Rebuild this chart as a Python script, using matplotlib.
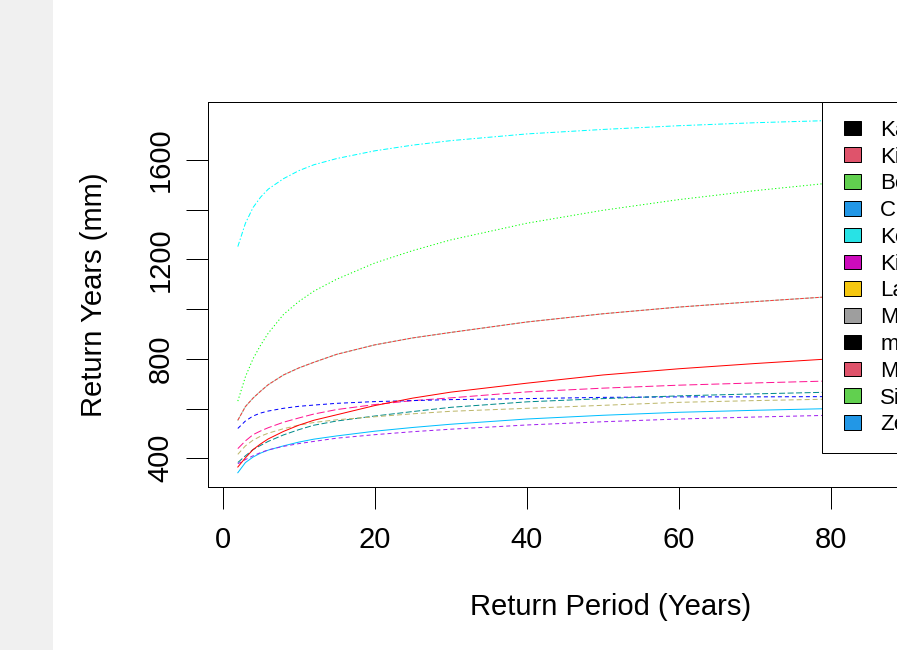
import matplotlib
matplotlib.use("Agg")
import matplotlib.pyplot as plt
from matplotlib.patches import Patch, Rectangle
from matplotlib.legend_handler import HandlerPatch

plt.rcParams["font.family"] = ["Liberation Sans", "DejaVu Sans"]
plt.rcParams["lines.scale_dashes"] = False

# return periods (years)
periods = [2, 3, 4, 5, 6, 8, 10, 12, 15, 20, 25, 30, 40, 50, 60, 70, 80, 90, 100]

# return levels (mm)
rl_cyan = [1251, 1345, 1408, 1450, 1482, 1524, 1556, 1580, 1605, 1636, 1659, 1677, 1704, 1722, 1737, 1749, 1758, 1767, 1775]
rl_green = [630, 728, 800, 855, 903, 978, 1030, 1072, 1120, 1185, 1235, 1278, 1345, 1397, 1440, 1476, 1507, 1535, 1560]
rl_brown = [553, 608, 642, 670, 696, 735, 763, 786, 818, 856, 884, 906, 948, 981, 1008, 1030, 1050, 1068, 1085]
rl_red = [365, 402, 435, 458, 478, 508, 533, 553, 575, 612, 642, 666, 702, 735, 760, 781, 800, 817, 833]
rl_pink = [439, 470, 495, 510, 523, 545, 562, 578, 596, 616, 632, 643, 667, 682, 694, 703, 711, 720, 728]
rl_blue = [520, 550, 570, 582, 590, 601, 609, 614, 621, 628, 632, 636, 640, 645, 647, 647, 648, 650, 652]
rl_teal = [383, 410, 435, 452, 468, 494, 515, 533, 550, 570, 588, 605, 627, 640, 651, 659, 666, 673, 679]
rl_khaki = [416, 450, 473, 489, 501, 519, 533, 544, 555, 567, 579, 589, 601, 613, 625, 632, 638, 643, 648]
rl_sky = [342, 383, 405, 421, 433, 450, 465, 477, 490, 509, 524, 537, 558, 573, 585, 593, 600, 606, 612]
rl_purple = [378, 395, 410, 423, 434, 448, 459, 468, 481, 495, 507, 517, 534, 547, 558, 566, 573, 578, 583]

stations = ["Kakamega", "Kisumu", "Bebeya", "C. Farm", "Kericho", "Kitale",
            "Lanet", "Muhoroni", "mean", "Mumias", "Siaya", "Zeze"]
legend_fill = ["black", "#DF536B", "#61D04F", "#2297E6", "#28E2E5", "#CD0BBC",
               "#F5C710", "#9E9E9E", "black", "#DF536B", "#61D04F", "#2297E6"]

px = 0.72  # one pixel in points at 100 dpi
fs = 21

fig = plt.figure(figsize=(8.97, 6.5), dpi=100)
fig.patches.append(Rectangle((0, 0), 53 / 897, 1, transform=fig.transFigure,
                             facecolor="#F0F0F0", edgecolor="none", zorder=-10))

ax = fig.add_axes([208 / 897, 1 - 487 / 650, 805 / 897, 385 / 650])

lw = 1.0 * px
ax.plot(periods, rl_cyan, color="#00FFFF", lw=lw, ls=(0, (5 * px, 2 * px, 1.5 * px, 2 * px)))
ax.plot(periods, rl_green, color="#00FF00", lw=lw, ls=(0, (1.2 * px, 2.3 * px)))
ax.plot(periods, rl_brown, color="#8FE0C8", lw=lw)
ax.plot(periods, rl_brown, color="#FF3A3A", lw=lw, ls=(0, (3.5 * px, 1.5 * px)))
ax.plot(periods, rl_pink, color="#FF1493", lw=lw, ls=(0, (8 * px, 3 * px)))
ax.plot(periods, rl_blue, color="#0000FF", lw=lw, ls=(0, (4 * px, 3 * px)))
ax.plot(periods, rl_teal, color="#008B8B", lw=lw, ls=(0, (6 * px, 2.5 * px)))
ax.plot(periods, rl_khaki, color="#BDB76B", lw=lw, ls=(0, (5 * px, 3 * px)))
ax.plot(periods, rl_sky, color="#00BFFF", lw=lw)
ax.plot(periods, rl_purple, color="#A020F0", lw=lw, ls=(0, (4 * px, 3 * px)))
ax.plot(periods, rl_red, color="#FF0000", lw=lw)

ax.margins(x=0.04, y=0.04)

ax.set_xticks([0, 20, 40, 60, 80, 100])
ax.set_yticks([400, 600, 800, 1000, 1200, 1400, 1600])
ax.set_yticklabels(["400", "", "800", "", "1200", "", "1600"], rotation=90, va="center")
ax.tick_params(axis="both", length=16, width=1.0 * px, labelsize=fs, color="black")
ax.tick_params(axis="x", pad=12)
ax.tick_params(axis="y", pad=8)
for s in ax.spines.values():
    s.set_linewidth(1.0 * px)
    s.set_color("black")

ax.set_xlabel("Return Period (Years)", fontsize=fs)
ax.set_ylabel("Return Years (mm)", fontsize=fs)
ax.xaxis.set_label_coords(0.5, -0.276)
ax.yaxis.set_label_coords(-0.124, 0.5)


def square(legend, orig_handle, xdescent, ydescent, width, height, fontsize):
    side = 16.7 * px
    tall = 14.5 * px
    return Rectangle((width - side - xdescent, -ydescent + (height - tall) / 2), side, tall)


handles = [Patch(facecolor=c, edgecolor="black", linewidth=1.0 * px) for c in legend_fill]
x0 = (822 - 208) / 805
leg = ax.legend(handles, stations, loc="upper right",
                bbox_to_anchor=(x0, 0, 1 - x0, 1), mode="expand",
                borderaxespad=0, fancybox=False, framealpha=1, edgecolor="black",
                fontsize=16, handlelength=0.955, handleheight=0.6,
                handletextpad=0.86, borderpad=0.8, labelspacing=0.26,
                handler_map={Patch: HandlerPatch(patch_func=square)})
leg.get_frame().set_linewidth(1.0 * px)

fig.savefig("out.png", dpi=100)
